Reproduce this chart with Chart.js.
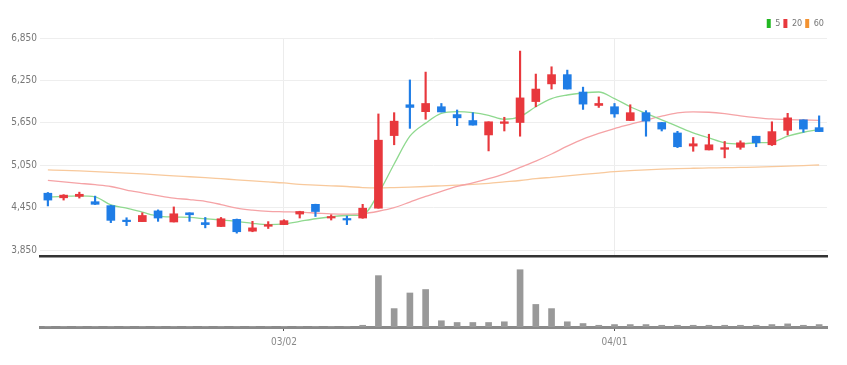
<!DOCTYPE html>
<html>
<head>
<meta charset="utf-8">
<script src="https://cdn.jsdelivr.net/npm/chart.js@4/dist/chart.umd.min.js"></script>
<style>
  body { margin: 0; background: #fff; }
  #priceBox { position: relative; width: 847px; height: 265px; }
  #volBox { position: relative; width: 847px; height: 100px; }
</style>
</head>
<body>
<div id="priceBox"><canvas id="priceChart"></canvas></div>
<div id="volBox"><canvas id="volChart"></canvas></div>
<script>
// trading days, 2022-02-08 .. 2022-04-20
const dates = [
    '02/08', '02/09', '02/10', '02/11', '02/14', '02/15', '02/16', '02/17', '02/18', '02/21',
    '02/22', '02/23', '02/24', '02/25', '02/28', '03/02', '03/03', '03/04', '03/07', '03/08',
    '03/10', '03/11', '03/14', '03/15', '03/16', '03/17', '03/18', '03/21', '03/22', '03/23',
    '03/24', '03/25', '03/28', '03/29', '03/30', '03/31', '04/01', '04/04', '04/05', '04/06',
    '04/07', '04/08', '04/11', '04/12', '04/13', '04/14', '04/15', '04/18', '04/19', '04/20',
]
const shownDates = ['03/02', '04/01']
const priceTicks = [3850, 4450, 5050, 5650, 6250, 6850]

const opens = [
    4655, 4590, 4610, 4535, 4479, 4267, 4253, 4405, 4248, 4378,
    4239, 4184, 4285, 4118, 4187, 4211, 4360, 4498, 4304, 4294,
    4304, 4443, 5470, 5906, 5808, 5878, 5767, 5683, 5479, 5642,
    5655, 5951, 6201, 6332, 6086, 5896, 5878, 5683, 5794, 5655,
    5507, 5322, 5267, 5276, 5304, 5461, 5340, 5544, 5693, 5582,
]
const closes = [
    4558, 4628, 4640, 4498, 4271, 4253, 4340, 4304, 4364, 4350,
    4211, 4294, 4110, 4165, 4211, 4267, 4396, 4396, 4322, 4276,
    4443, 5405, 5674, 5868, 5924, 5804, 5721, 5618, 5665, 5665,
    6003, 6128, 6332, 6128, 5915, 5924, 5776, 5794, 5674, 5562,
    5312, 5354, 5340, 5299, 5368, 5368, 5526, 5721, 5562, 5526,
]
const highs = [
    4665, 4635, 4670, 4614, 4485, 4308, 4378, 4419, 4461, 4378,
    4312, 4312, 4290, 4257, 4253, 4280, 4400, 4500, 4350, 4332,
    4498, 5776, 5794, 6257, 6368, 5924, 5832, 5794, 5665, 5729,
    6665, 6340, 6443, 6396, 6155, 6017, 5924, 5906, 5822, 5655,
    5530, 5443, 5489, 5387, 5396, 5461, 5665, 5785, 5693, 5749,
]
const lows = [
    4475, 4558, 4586, 4495, 4239, 4197, 4253, 4257, 4248, 4257,
    4165, 4184, 4090, 4110, 4156, 4211, 4304, 4326, 4276, 4211,
    4300, 4443, 5340, 5572, 5701, 5804, 5610, 5618, 5253, 5535,
    5461, 5878, 6128, 6128, 5840, 5868, 5729, 5683, 5461, 5535,
    5300, 5248, 5267, 5155, 5276, 5312, 5330, 5479, 5517, 5526,
]

const ma5 = [
    4600, 4610, 4618, 4604, 4489, 4443, 4387, 4332, 4318, 4312,
    4294, 4276, 4257, 4229, 4211, 4220, 4257, 4294, 4322, 4340,
    4350, 4651, 5068, 5461, 5646, 5785, 5808, 5794, 5757, 5701,
    5739, 5878, 5993, 6044, 6072, 6086, 5993, 5878, 5785, 5693,
    5600, 5507, 5437, 5368, 5354, 5368, 5378, 5461, 5517, 5554,
]
const ma20 = [
    4836, 4815, 4795, 4775, 4750, 4700, 4660, 4620, 4585, 4565,
    4540, 4495, 4443, 4415, 4398, 4392, 4387, 4375, 4362, 4358,
    4365, 4400, 4450, 4530, 4610, 4680, 4750, 4800, 4860, 4930,
    5020, 5110, 5210, 5320, 5420, 5500, 5570, 5630, 5690, 5745,
    5790, 5805, 5800, 5780, 5750, 5725, 5705, 5695, 5690, 5685,
]
const ma60 = [
    4985, 4978, 4970, 4960, 4950, 4940, 4928, 4915, 4900, 4888,
    4875, 4860, 4845, 4830, 4815, 4800, 4780, 4770, 4760, 4750,
    4735, 4730, 4735, 4742, 4750, 4760, 4770, 4780, 4795, 4815,
    4835, 4860, 4880, 4900, 4920, 4940, 4960, 4975, 4985, 4995,
    5003, 5008, 5012, 5016, 5020, 5024, 5030, 5038, 5045, 5054,
]
const volumes = [
    2, 2, 2, 2, 2, 2, 2, 2, 2, 2,
    2, 2, 2, 2, 2, 2, 2, 2, 2, 2,
    5, 148, 53, 98, 108, 18, 13, 13, 13, 15,
    165, 65, 53, 15, 10, 5, 7, 7, 7, 5,
    5, 5, 5, 5, 5, 5, 7, 9, 5, 7,
]

const UP = '#e8383d'
const DOWN = '#1f7de6'
const FONT = "'Liberation Sans Narrow', 'DejaVu Sans Condensed', Roboto, sans-serif"

const candleColors = opens.map((o, i) => (closes[i] >= o ? UP : DOWN))
const isShown = (i) => shownDates.includes(dates[i])

// Price chart: wicks + bodies as floating bars, moving averages as lines
new Chart(document.getElementById('priceChart'), {
    data: {
        labels: dates,
        datasets: [
            {
                type: 'bar',
                label: 'wick',
                data: lows.map((l, i) => [l, highs[i]]),
                backgroundColor: candleColors,
                barThickness: 1.5,
                grouped: false,
                order: 1,
            },
            {
                type: 'bar',
                label: 'body',
                data: opens.map((o, i) => [o, closes[i]]),
                backgroundColor: candleColors,
                barThickness: 8,
                minBarLength: 1.5,
                grouped: false,
                order: 0,
            },
            { type: 'line', label: '5', data: ma5, borderColor: '#8fd98f', backgroundColor: '#22b822', order: 2 },
            { type: 'line', label: '20', data: ma20, borderColor: '#f5a3a6', backgroundColor: '#e8383d', order: 2 },
            { type: 'line', label: '60', data: ma60, borderColor: '#f8c99c', backgroundColor: '#f39230', order: 2 },
        ],
    },
    options: {
        responsive: true,
        maintainAspectRatio: false,
        animation: false,
        layout: { padding: { top: 16, right: 20, left: 0, bottom: 0 } },
        elements: {
            line: { borderWidth: 1.3, cubicInterpolationMode: 'monotone', fill: false },
            point: { radius: 0 },
        },
        plugins: {
            tooltip: { enabled: false },
            legend: {
                position: 'top',
                align: 'end',
                labels: {
                    boxWidth: 4,
                    boxHeight: 9,
                    padding: 3,
                    color: '#777',
                    font: { family: FONT, size: 9 },
                    filter: (item) => item.datasetIndex >= 2,
                    generateLabels: (chart) =>
                        Chart.defaults.plugins.legend.labels.generateLabels(chart).map((item) => {
                            item.strokeStyle = item.fillStyle
                            item.lineWidth = 0
                            return item
                        }),
                },
            },
        },
        scales: {
            x: {
                ticks: { display: false },
                grid: {
                    offset: false,
                    drawTicks: false,
                    color: (ctx) => (isShown(ctx.index) ? '#ececec' : 'transparent'),
                },
                border: { color: '#333', width: 2.5 },
                afterFit: (scale) => { scale.height = 3 },
            },
            y: {
                min: 3767,
                max: 6850,
                afterBuildTicks: (scale) => { scale.ticks = priceTicks.map((v) => ({ value: v })) },
                afterFit: (scale) => { scale.width = 40 },
                ticks: {
                    padding: 3,
                    color: '#777',
                    font: { family: FONT, size: 10 },
                    callback: (v) => v.toLocaleString('en-US'),
                },
                grid: { color: '#eeeeee', drawTicks: false },
                border: { display: false },
            },
        },
    },
})

// Volume chart
new Chart(document.getElementById('volChart'), {
    type: 'bar',
    data: {
        labels: dates,
        datasets: [
            {
                label: 'volume',
                data: volumes,
                backgroundColor: '#999999',
                barThickness: 6,
            },
        ],
    },
    options: {
        responsive: true,
        maintainAspectRatio: false,
        animation: false,
        layout: { padding: { top: 3, right: 20, left: 0, bottom: 0 } },
        plugins: { legend: { display: false }, tooltip: { enabled: false } },
        scales: {
            x: {
                grid: {
                    offset: false,
                    drawOnChartArea: false,
                    tickLength: 4,
                    color: (ctx) => (isShown(ctx.index) ? '#555' : 'transparent'),
                },
                border: { color: '#8a8a8a', width: 3 },
                ticks: {
                    autoSkip: false,
                    maxRotation: 0,
                    padding: 5,
                    color: '#888',
                    font: { family: FONT, size: 10 },
                    callback: (v, i) => (isShown(i) ? dates[i] : ''),
                },
                afterFit: (scale) => { scale.height = 38 },
            },
            y: {
                min: 0,
                max: 170,
                ticks: { display: false },
                grid: { display: false },
                border: { display: false },
                afterFit: (scale) => { scale.width = 40 },
            },
        },
    },
})
</script>
</body>
</html>
